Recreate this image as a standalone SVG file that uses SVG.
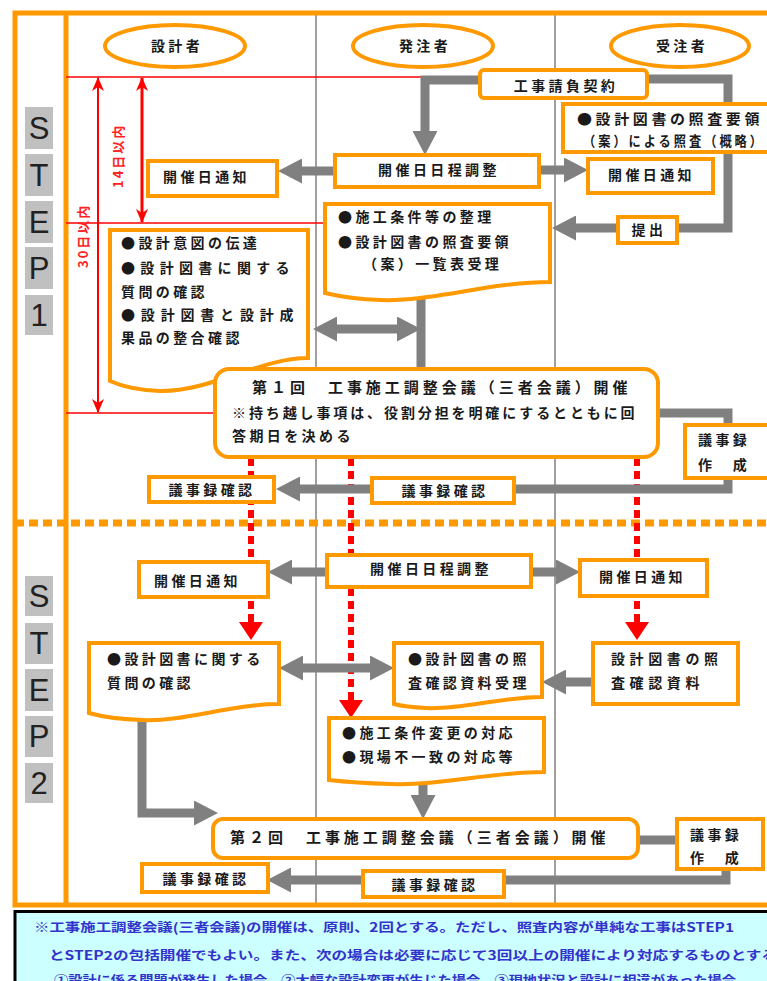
<svg xmlns="http://www.w3.org/2000/svg" width="767" height="981" viewBox="0 0 767 981">
<style>
.box{fill:#fff;stroke:#FF9900;stroke-width:4}
.t{font-family:"Noto Sans CJK JP","Noto Sans CJK SC",sans-serif;font-weight:bold;font-size:14px;fill:#1a1a1a;letter-spacing:3.4px}
.c{text-anchor:middle}
.g{fill:none;stroke:#808080;stroke-width:9;stroke-linejoin:miter}
.ga{marker-end:url(#ga)}
.gd{marker-start:url(#ga);marker-end:url(#ga)}
.rd{fill:none;stroke:#FF0000;stroke-width:6;stroke-dasharray:8 5;marker-end:url(#ra)}
.rl{fill:none;stroke:#FF0000;stroke-width:1.5}
.stp{fill:#C0C0C0}
.sl{font-family:"Liberation Sans",Arial,sans-serif;font-size:31px;fill:#222;text-anchor:middle}
.rt{font-family:"Noto Sans CJK JP",sans-serif;font-weight:bold;font-size:13px;fill:#FF2222;letter-spacing:2px}
.nt{font-family:"Noto Sans CJK JP",sans-serif;font-weight:bold;font-size:12.5px;fill:#3333CC}
</style>
<defs>
<marker id="ga" markerUnits="userSpaceOnUse" viewBox="0 0 24 25" markerWidth="24" markerHeight="25" refX="10" refY="12.5" orient="auto-start-reverse"><path d="M0,0 L24,12.5 L0,25 Z" fill="#808080"/></marker>
<marker id="ra" markerUnits="userSpaceOnUse" viewBox="0 0 18 24" markerWidth="18" markerHeight="24" refX="6" refY="12" orient="auto"><path d="M0,0 L18,12 L0,24 Z" fill="#FF0000"/></marker>
<marker id="rs" markerUnits="userSpaceOnUse" viewBox="0 0 14 12" markerWidth="14" markerHeight="12" refX="13" refY="6" orient="auto-start-reverse"><path d="M0,0 L14,6 L0,12 L4,6 Z" fill="#FF0000"/></marker>
</defs>

<g id="frame">
<rect x="0" y="0" width="767" height="981" fill="#fff"/>
<line x1="316" y1="13" x2="316" y2="905" stroke="#808080" stroke-width="1.5"/>
<line x1="555" y1="13" x2="555" y2="905" stroke="#808080" stroke-width="1.5"/>
<rect x="15" y="13" width="800" height="892" fill="none" stroke="#FF9900" stroke-width="5"/>
<line x1="66" y1="13" x2="66" y2="905" stroke="#FF9900" stroke-width="5"/>
<line x1="15" y1="523" x2="767" y2="523" stroke="#FF9900" stroke-width="7" stroke-dasharray="9 5"/>
</g>

<g id="step1">
<rect class="stp" x="25" y="107" width="28" height="42"/><text class="sl" x="39" y="139">S</text>
<rect class="stp" x="25" y="154" width="28" height="42"/><text class="sl" x="39" y="186">T</text>
<rect class="stp" x="25" y="201" width="28" height="42"/><text class="sl" x="39" y="233">E</text>
<rect class="stp" x="25" y="247" width="28" height="42"/><text class="sl" x="39" y="279">P</text>
<rect class="stp" x="25" y="295" width="28" height="40"/><text class="sl" x="39" y="326">1</text>
</g>
<g id="step2">
<rect class="stp" x="25" y="576" width="28" height="40"/><text class="sl" x="39" y="607">S</text>
<rect class="stp" x="25" y="623" width="28" height="41"/><text class="sl" x="39" y="654">T</text>
<rect class="stp" x="25" y="669" width="28" height="42"/><text class="sl" x="39" y="701">E</text>
<rect class="stp" x="25" y="716" width="28" height="41"/><text class="sl" x="39" y="747">P</text>
<rect class="stp" x="25" y="763" width="28" height="40"/><text class="sl" x="39" y="794">2</text>
</g>

<g id="connectors">
<path class="rl" d="M66,77 H480"/>
<path class="rl" d="M66,223 H325"/>
<path class="rl" d="M66,413 H215"/>
<path d="M142,78 V222" stroke="#FF0000" stroke-width="3" fill="none" marker-start="url(#rs)" marker-end="url(#rs)"/>
<path d="M98,78 V412" stroke="#FF0000" stroke-width="2" fill="none" marker-start="url(#rs)" marker-end="url(#rs)"/>
<text class="rt" transform="translate(123,188) rotate(-90)">14日以内</text>
<text class="rt" transform="translate(88,268) rotate(-90)">30日以内</text>
<path class="rd" d="M251,458 V628"/>
<path class="rd" d="M351,458 V706"/>
<path class="rd" d="M637,458 V628"/>
<path class="g ga" d="M480,80 H425 V141"/>
<path class="g" d="M647,79 H728 V228 H677"/>
<path class="g ga" d="M618,228 H566"/>
<path class="g ga" d="M335,171 H292"/>
<path class="g ga" d="M539,170 H574"/>
<path class="g" d="M421,290 V370"/>
<path class="g gd" d="M327,329 H407"/>
<path class="g ga" d="M658,413 H728 V489 H290"/>
<path class="g ga" d="M327,572 H282"/>
<path class="g ga" d="M531,572 H566"/>
<path class="g gd" d="M293,668 H380"/>
<path class="g ga" d="M593,682 H556"/>
<path class="g ga" d="M423,775 V805"/>
<path class="g ga" d="M142,712 V813 H204"/>
<path class="g" d="M638,840 H680"/>
<path class="g ga" d="M726,869 V880 H281"/>
</g>

<g id="h-sekkei"><ellipse class="box" cx="175" cy="46" rx="70" ry="21"/><text class="t c" x="177" y="51">設計者</text></g>
<g id="h-hacchu"><ellipse class="box" cx="423" cy="46" rx="70" ry="21"/><text class="t c" x="425" y="51">発注者</text></g>
<g id="h-juchu"><ellipse class="box" cx="680" cy="46" rx="69" ry="21"/><text class="t c" x="682" y="51">受注者</text></g>

<g id="n-keiyaku"><rect class="box" x="480" y="70" width="167" height="28" rx="4"/><text class="t c" x="566" y="91">工事請負契約</text></g>
<g id="n-shosa"><rect class="box" x="563" y="104" width="220" height="48"/><text class="t" x="577" y="124" textLength="186" lengthAdjust="spacingAndGlyphs">●設計図書の照査要領</text><text class="t" x="583" y="146" textLength="182" lengthAdjust="spacingAndGlyphs">（案）による照査（概略）</text></g>
<g id="n-nittei1"><rect class="box" x="335" y="155" width="204" height="32"/><text class="t c" x="439" y="175">開催日日程調整</text></g>
<g id="n-tsuchi1a"><rect class="box" x="148" y="161" width="129" height="35"/><text class="t" x="163" y="182">開催日通知</text></g>
<g id="n-tsuchi1b"><rect class="box" x="588" y="159" width="125" height="34"/><text class="t" x="608" y="180">開催日通知</text></g>
<g id="n-teishutsu"><rect class="box" x="618" y="217" width="59" height="26"/><text class="t c" x="649" y="235">提出</text></g>
<g id="n-seiri"><path class="box" d="M325,204 H550 V282 C490,282 430,302 381,300 Q350,299 325,293 Z"/><text class="t" x="338" y="222">●施工条件等の整理</text><text class="t" x="338" y="247">●設計図書の照査要領</text><text class="t" x="363" y="269">（案）一覧表受理</text></g>
<g id="n-ito"><path class="box" d="M110,230 H308 V358 C260,358 210,392 160,391 Q130,390 110,381 Z"/><text class="t" x="121" y="248">●設計意図の伝達</text><text class="t" x="121" y="273" textLength="172" lengthAdjust="spacing">●設計図書に関する</text><text class="t" x="121" y="297">質問の確認</text><text class="t" x="121" y="320" textLength="176" lengthAdjust="spacing">●設計図書と設計成</text><text class="t" x="121" y="343">果品の整合確認</text></g>
<g id="n-kaigi1"><rect class="box" x="215" y="369" width="443" height="88" rx="14"/><text class="t" x="252" y="393" style="font-size:15px" textLength="379" lengthAdjust="spacing">第１回　工事施工調整会議（三者会議）開催</text><text class="t" x="232" y="418" textLength="406" lengthAdjust="spacing">※持ち越し事項は、役割分担を明確にするとともに回</text><text class="t" x="232" y="441">答期日を決める</text></g>
<g id="n-sakusei1"><rect class="box" x="685" y="425" width="100" height="53"/><text class="t" x="698" y="445">議事録</text><text class="t" x="698" y="470">作　成</text></g>
<g id="n-kakunin1a"><rect class="box" x="149" y="477" width="125" height="25"/><text class="t c" x="212" y="495">議事録確認</text></g>
<g id="n-kakunin1b"><rect class="box" x="372" y="478" width="142" height="25"/><text class="t c" x="445" y="496">議事録確認</text></g>

<g id="n-nittei2"><rect class="box" x="327" y="555" width="204" height="32"/><text class="t c" x="431" y="574">開催日日程調整</text></g>
<g id="n-tsuchi2a"><rect class="box" x="139" y="562" width="129" height="35"/><text class="t" x="154" y="586">開催日通知</text></g>
<g id="n-tsuchi2b"><rect class="box" x="580" y="560" width="127" height="36"/><text class="t" x="599" y="582">開催日通知</text></g>
<g id="n-shitsumon"><path class="box" d="M89,643 H279 V704 C230,704 185,722 142,720 Q110,719 89,713 Z"/><text class="t" x="107" y="664">●設計図書に関する</text><text class="t" x="107" y="688">質問の確認</text></g>
<g id="n-juri"><path class="box" d="M394,643 H542 V697 C500,697 460,710 426,708 Q405,707 394,704 Z"/><text class="t" x="408" y="664">●設計図書の照</text><text class="t" x="408" y="688">査確認資料受理</text></g>
<g id="n-shiryo"><rect class="box" x="593" y="643" width="145" height="61"/><text class="t" x="611" y="664" style="letter-spacing:4.6px">設計図書の照</text><text class="t" x="611" y="688" style="letter-spacing:4.6px">査確認資料</text></g>
<g id="n-henko"><path class="box" d="M329,718 H544 V772 C490,772 440,786 391,784 Q355,783 329,780 Z"/><text class="t" x="342" y="738">●施工条件変更の対応</text><text class="t" x="342" y="762">●現場不一致の対応等</text></g>
<g id="n-kaigi2"><rect class="box" x="213" y="819" width="425" height="39" rx="10"/><text class="t" x="230" y="843" style="font-size:15px" textLength="379" lengthAdjust="spacing">第２回　工事施工調整会議（三者会議）開催</text></g>
<g id="n-sakusei2"><rect class="box" x="677" y="819" width="86" height="50"/><text class="t" x="690" y="840">議事録</text><text class="t" x="690" y="863">作　成</text></g>
<g id="n-kakunin2a"><rect class="box" x="142" y="864" width="126" height="28"/><text class="t c" x="206" y="884">議事録確認</text></g>
<g id="n-kakunin2b"><rect class="box" x="363" y="871" width="141" height="26"/><text class="t c" x="435" y="890">議事録確認</text></g>

<g id="note">
<rect x="15" y="911.5" width="800" height="100" fill="#CCFFFF" stroke="#000" stroke-width="3"/>
<text class="nt" x="34" y="932" textLength="700" lengthAdjust="spacingAndGlyphs">※工事施工調整会議(三者会議)の開催は、原則、2回とする。ただし、照査内容が単純な工事はSTEP1</text>
<text class="nt" x="49" y="960" textLength="728" lengthAdjust="spacingAndGlyphs">とSTEP2の包括開催でもよい。また、次の場合は必要に応じて3回以上の開催により対応するものとする</text>
<text class="nt" x="54" y="985" textLength="682" lengthAdjust="spacingAndGlyphs">①設計に係る問題が発生した場合　②大幅な設計変更が生じた場合　③現地状況と設計に相違があった場合</text>
</g>
</svg>
